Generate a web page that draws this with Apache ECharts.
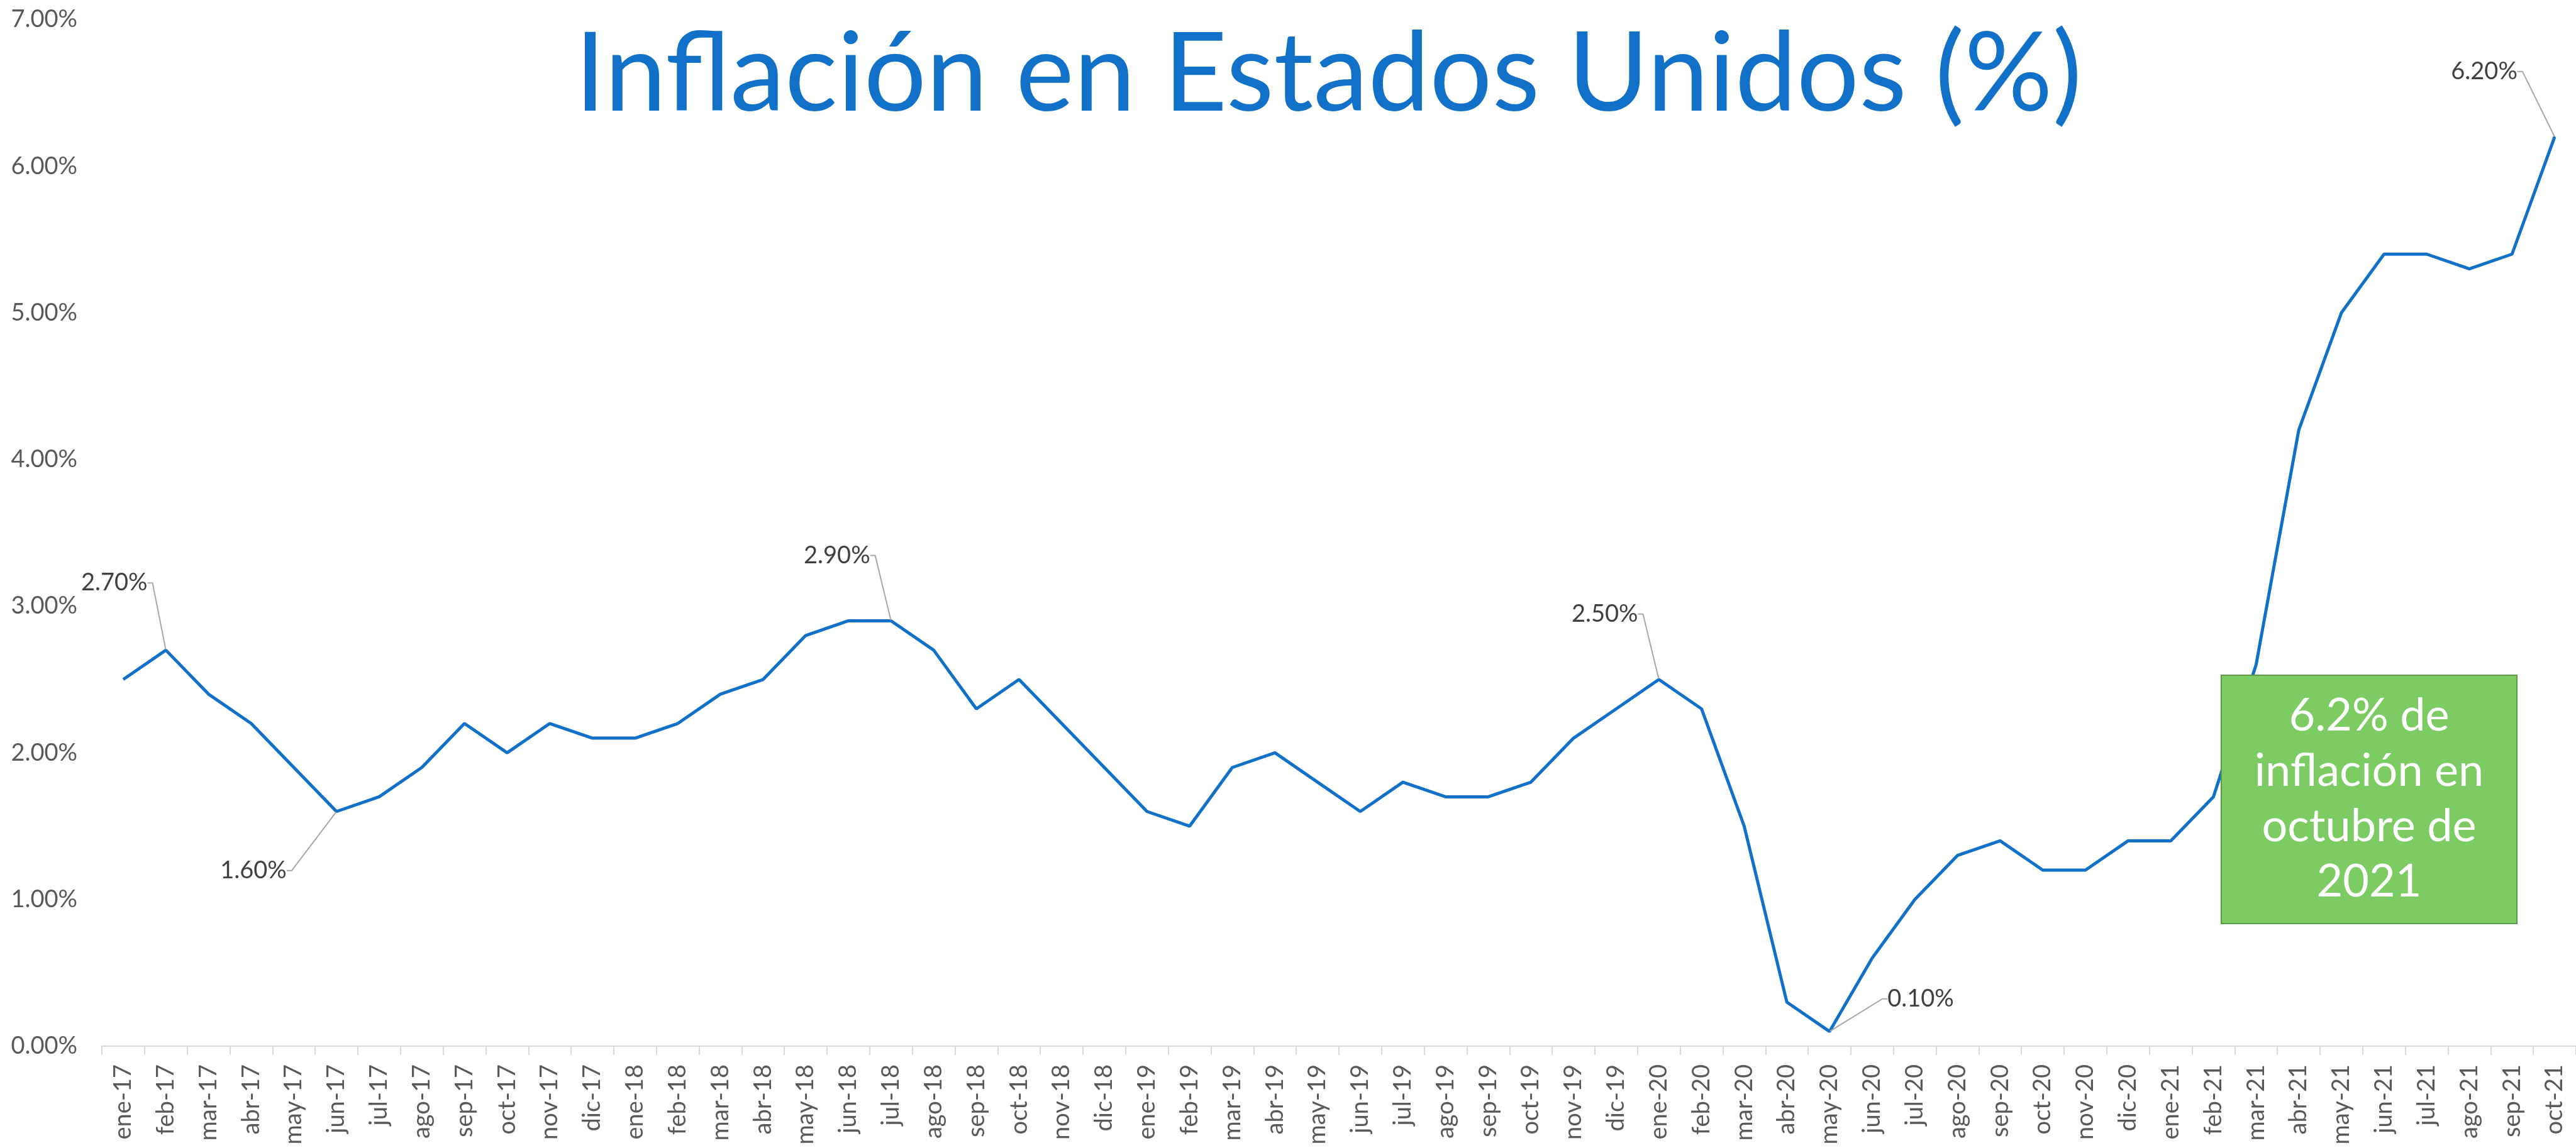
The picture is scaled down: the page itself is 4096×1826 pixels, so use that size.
<!DOCTYPE html>
<html>
<head>
<meta charset="utf-8">
<title>Inflación en Estados Unidos</title>
<script src="https://cdn.jsdelivr.net/npm/echarts@6/dist/echarts.min.js"></script>
<style>
  html, body { margin: 0; padding: 0; background: #fff; }
  #main { width: 4096px; height: 1826px; }
</style>
</head>
<body>
<div id="main"></div>
<script>
// meses (ene-17 .. oct-21)
var meses = ['ene-17','feb-17','mar-17','abr-17','may-17','jun-17','jul-17','ago-17','sep-17','oct-17','nov-17','dic-17',
  'ene-18','feb-18','mar-18','abr-18','may-18','jun-18','jul-18','ago-18','sep-18','oct-18','nov-18','dic-18',
  'ene-19','feb-19','mar-19','abr-19','may-19','jun-19','jul-19','ago-19','sep-19','oct-19','nov-19','dic-19',
  'ene-20','feb-20','mar-20','abr-20','may-20','jun-20','jul-20','ago-20','sep-20','oct-20','nov-20','dic-20',
  'ene-21','feb-21','mar-21','abr-21','may-21','jun-21','jul-21','ago-21','sep-21','oct-21'];

// inflacion anual (%)
var inflacion = [2.5,2.7,2.4,2.2,1.9,1.6,1.7,1.9,2.2,2.0,2.2,2.1,
  2.1,2.2,2.4,2.5,2.8,2.9,2.9,2.7,2.3,2.5,2.2,1.9,
  1.6,1.5,1.9,2.0,1.8,1.6,1.8,1.7,1.7,1.8,2.1,2.3,
  2.5,2.3,1.5,0.3,0.1,0.6,1.0,1.3,1.4,1.2,1.2,1.4,
  1.4,1.7,2.6,4.2,5.0,5.4,5.4,5.3,5.4,6.2];

// puntos con etiqueta
var etiquetados = ['feb-17','jun-17','jul-18','ene-20','may-20','oct-21'];

var yTicks = [0,1,2,3,4,5,6,7];

var titulo = 'Inflación en Estados Unidos (%)';
var cuadroTexto = ['6.2% de', 'inflación en', 'octubre de', '2021'];

// desplazamiento de cada etiqueta respecto a su punto
var desplaz = {
  'feb-17': [-82, -107],
  'jun-17': [-132, 94],
  'jul-18': [-86, -104],
  'ene-20': [-86, -104],
  'may-20': [145, -52],
  'oct-21': [-112, -104]
};

var fuente = 'Lato';
var azul = '#1170C8';

var serieDatos = [];
for (var i = 0; i < inflacion.length; i++) {
  if (etiquetados.indexOf(meses[i]) >= 0) {
    serieDatos.push({
      value: inflacion[i],
      symbol: 'circle',
      symbolSize: 2,
      label: { show: true }
    });
  } else {
    serieDatos.push({ value: inflacion[i], symbol: 'none' });
  }
}

var myChart = echarts.init(document.getElementById('main'));
var option = {
  animation: false,
  backgroundColor: '#fff',
  title: {
    text: titulo,
    left: 909,
    top: 27,
    textStyle: { fontFamily: fuente, fontSize: 175, fontWeight: 'normal', color: azul }
  },
  grid: { left: 162, right: 0, top: 31, bottom: 162 },
  xAxis: {
    type: 'category',
    data: meses,
    boundaryGap: true,
    axisLine: { lineStyle: { color: '#D9D9D9', width: 2 } },
    axisTick: { show: true, length: 14, lineStyle: { color: '#D9D9D9', width: 2 } },
    axisLabel: {
      interval: 0, rotate: 90, margin: 29,
      fontFamily: fuente, fontSize: 38, color: '#595959'
    },
    splitLine: { show: false }
  },
  yAxis: {
    type: 'value',
    min: yTicks[0],
    max: yTicks[yTicks.length - 1],
    interval: 1,
    axisLine: { show: false },
    axisTick: { show: false },
    splitLine: { show: false },
    axisLabel: {
      margin: 39,
      fontFamily: fuente, fontSize: 38, color: '#595959',
      formatter: function (v) { return v.toFixed(2) + '%'; }
    }
  },
  series: [{
    type: 'line',
    data: serieDatos,
    showSymbol: true,
    itemStyle: { color: azul },
    lineStyle: { color: azul, width: 5 },
    label: {
      position: 'inside',
      fontFamily: fuente, fontSize: 38, color: '#404040',
      formatter: function (p) { return p.value.toFixed(2) + '%'; }
    },
    labelLine: { show: true, length2: 8, lineStyle: { color: '#A6A6A6', width: 2 } },
    labelLayout: function (p) {
      var d = desplaz[meses[p.dataIndex]];
      if (!d) return {};
      return { dx: d[0], dy: d[1] };
    }
  }],
  graphic: [{
    type: 'group',
    left: 3531,
    top: 1073,
    z: 100,
    children: [{
      type: 'rect',
      z: 100,
      shape: { x: 0, y: 0, width: 470, height: 395 },
      style: { fill: '#7DCB63', stroke: '#5B9A42', lineWidth: 2 }
    }, {
      type: 'text',
      z: 101,
      x: 235,
      y: 197,
      style: {
        text: cuadroTexto.join('\n'),
        fill: '#fff',
        font: '72px Lato',
        lineHeight: 88,
        align: 'center',
        verticalAlign: 'middle'
      }
    }]
  }]
};
myChart.setOption(option);
</script>
</body>
</html>
